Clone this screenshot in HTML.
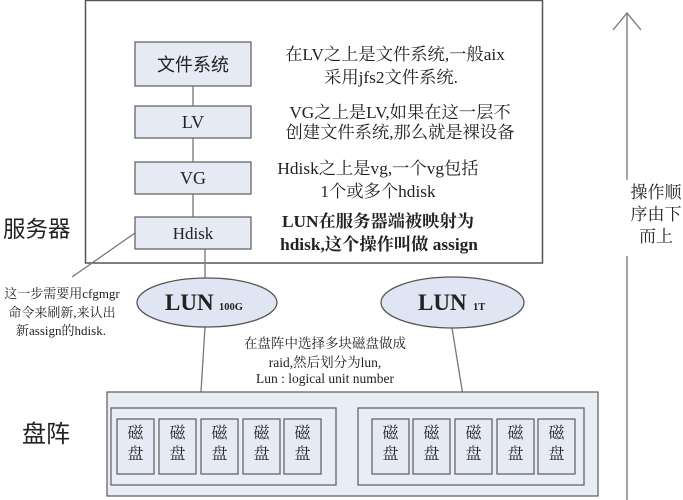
<!DOCTYPE html>
<html><head><meta charset="utf-8"><style>
html,body{margin:0;padding:0;background:#fff;}
svg{display:block;}
.s{font-family:"Liberation Serif","Noto Serif CJK SC",serif;fill:#222;}
.ss{font-family:"Liberation Sans","Noto Sans CJK SC",sans-serif;fill:#222;}
</style></head><body>
<svg width="683" height="500" viewBox="0 0 683 500" xmlns="http://www.w3.org/2000/svg">
<!-- server box -->
<rect x="85.5" y="0.5" width="457" height="262.5" fill="#fff" stroke="#555" stroke-width="1.5"/>
<!-- connectors between stack boxes -->
<g stroke="#777" stroke-width="1.3">
<line x1="193" y1="86" x2="193" y2="106"/>
<line x1="193" y1="138" x2="193" y2="162"/>
<line x1="193" y1="194" x2="193" y2="217"/>
<line x1="205" y1="249" x2="205" y2="278"/>
<line x1="205" y1="327" x2="200" y2="408"/>
<line x1="452" y1="328" x2="465" y2="408"/>
<line x1="135" y1="233" x2="72" y2="277"/>
</g>
<g fill="#e5eaf5" stroke="#666" stroke-width="1.3">
<rect x="135" y="42" width="116" height="44"/>
<rect x="135" y="106" width="116" height="32"/>
<rect x="135" y="162" width="116" height="32"/>
<rect x="135" y="217" width="116" height="32"/>
</g>
<text class="ss" x="193" y="71" font-size="18" text-anchor="middle">文件系统</text>
<text class="s" x="193" y="128" font-size="18" text-anchor="middle">LV</text>
<text class="s" x="193" y="184" font-size="18" text-anchor="middle">VG</text>
<text class="s" x="193" y="239" font-size="17" text-anchor="middle">Hdisk</text>

<!-- right explanations -->
<g class="s" font-size="17.3" text-anchor="middle">
<text x="395" y="60">在LV之上是文件系统,一般aix</text>
<text x="391" y="83">采用jfs2文件系统.</text>
<text x="400" y="118">VG之上是LV,如果在这一层不</text>
<text x="400" y="138">创建文件系统,那么就是裸设备</text>
<text x="378" y="174">Hdisk之上是vg,一个vg包括</text>
<text x="378" y="197">1个或多个hdisk</text>
<text x="378" y="227" font-weight="bold">LUN在服务器端被映射为</text>
<text x="379" y="250" font-weight="bold">hdisk,这个操作叫做 assign</text>
</g>

<text class="ss" x="3" y="237" font-size="22.5">服务器</text>
<text class="ss" x="22" y="442" font-size="24">盘阵</text>

<!-- right arrow -->
<line x1="627" y1="13" x2="627" y2="500" stroke="#777" stroke-width="1.3"/>
<polyline points="613,30 627,13 641,30" fill="none" stroke="#777" stroke-width="1.3"/>
<rect x="620" y="180" width="63" height="76" fill="#fff"/>
<g class="s" font-size="17" text-anchor="middle">
<text x="656" y="198">操作顺</text>
<text x="656" y="220">序由下</text>
<text x="656" y="242">而上</text>
</g>

<!-- left note -->
<g class="s" font-size="13" text-anchor="middle">
<text x="62" y="298">这一步需要用cfgmgr</text>
<text x="62" y="317">命令来刷新,来认出</text>
<text x="61" y="335">新assign的hdisk.</text>
</g>

<!-- LUN ellipses -->
<ellipse cx="207" cy="302.5" rx="70" ry="24.5" fill="#dfe5f2" stroke="#555" stroke-width="1.3"/>
<ellipse cx="452.5" cy="302.5" rx="71.5" ry="25.5" fill="#dfe5f2" stroke="#555" stroke-width="1.3"/>
<text class="s" x="165" y="310" font-size="23" font-weight="bold" fill="#111">LUN</text>
<text class="s" x="219" y="310" font-size="10.5" font-weight="bold">100G</text>
<text class="s" x="418" y="310" font-size="23" font-weight="bold" fill="#111">LUN</text>
<text class="s" x="473" y="310" font-size="10.5" font-weight="bold">1T</text>

<g class="s" font-size="13.5" text-anchor="middle">
<text x="325" y="348">在盘阵中选择多块磁盘做成</text>
<text x="325" y="367">raid,然后划分为lun,</text>
<text x="325" y="383">Lun : logical unit number</text>
</g>

<!-- disk array -->
<rect x="107" y="392" width="491" height="104" fill="#e9edf6" stroke="#666" stroke-width="1.3"/>
<rect x="111" y="408" width="225" height="77" fill="#e9edf6" stroke="#666" stroke-width="1.3"/>
<rect x="358" y="408" width="226" height="77" fill="#e9edf6" stroke="#666" stroke-width="1.3"/>
<g fill="#e5eaf5" stroke="#666" stroke-width="1.3">
<rect x="117" y="419" width="37" height="55"/>
<rect x="159" y="419" width="37" height="55"/>
<rect x="201" y="419" width="37" height="55"/>
<rect x="243" y="419" width="37" height="55"/>
<rect x="284" y="419" width="37" height="55"/>
<rect x="372" y="419" width="37" height="55"/>
<rect x="413" y="419" width="37" height="55"/>
<rect x="455" y="419" width="37" height="55"/>
<rect x="497" y="419" width="37" height="55"/>
<rect x="538" y="419" width="37" height="55"/>
</g>
<g class="s" font-size="16" text-anchor="middle" fill="#333">
<text x="135.5" y="438">磁</text><text x="135.5" y="459">盘</text>
<text x="177.5" y="438">磁</text><text x="177.5" y="459">盘</text>
<text x="219.5" y="438">磁</text><text x="219.5" y="459">盘</text>
<text x="261.5" y="438">磁</text><text x="261.5" y="459">盘</text>
<text x="302.5" y="438">磁</text><text x="302.5" y="459">盘</text>
<text x="390.5" y="438">磁</text><text x="390.5" y="459">盘</text>
<text x="431.5" y="438">磁</text><text x="431.5" y="459">盘</text>
<text x="473.5" y="438">磁</text><text x="473.5" y="459">盘</text>
<text x="515.5" y="438">磁</text><text x="515.5" y="459">盘</text>
<text x="556.5" y="438">磁</text><text x="556.5" y="459">盘</text>
</g>
</svg>
</body></html>
